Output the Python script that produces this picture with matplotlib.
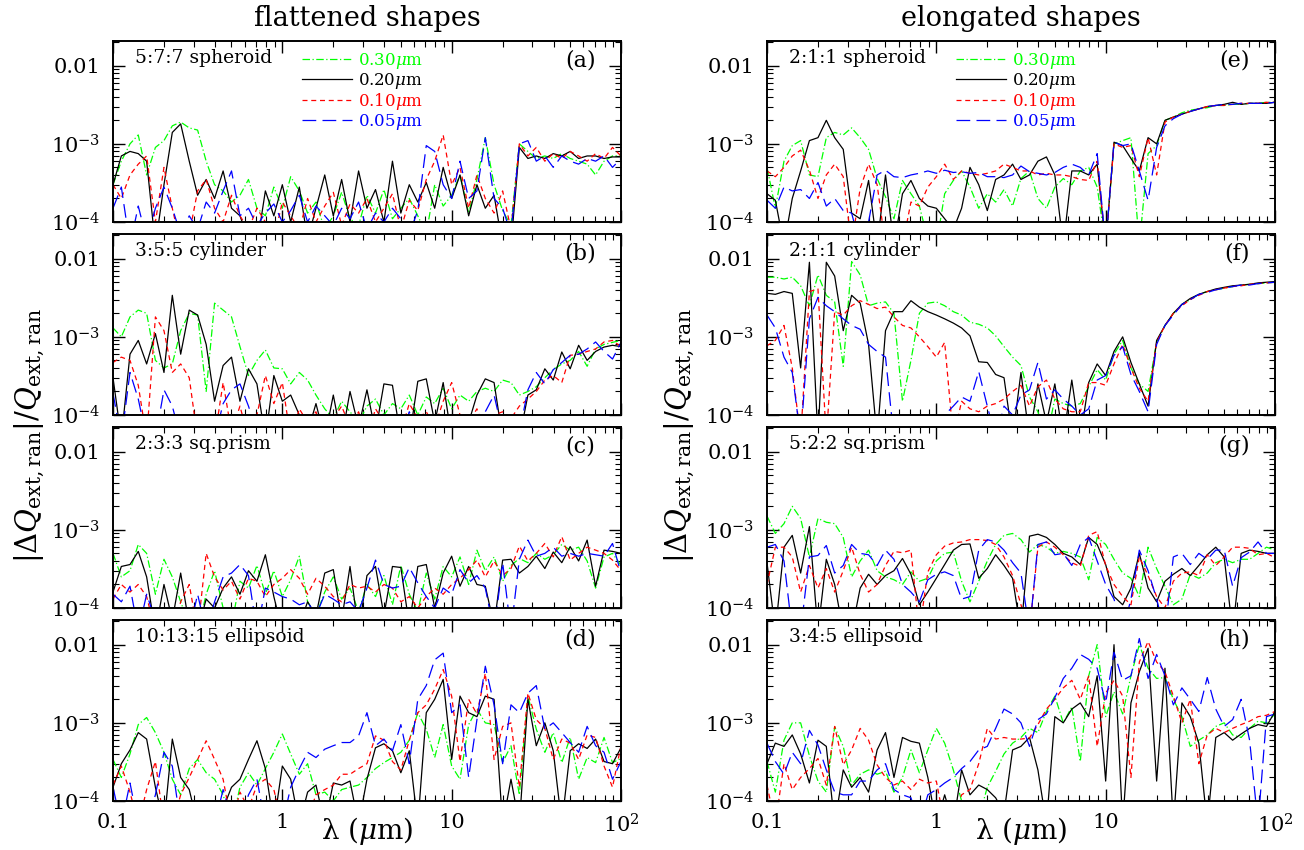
import matplotlib.pyplot as plt
import numpy as np
from matplotlib.ticker import NullFormatter

plt.rcParams['font.family'] = 'DejaVu Serif'
plt.rcParams['mathtext.fontset'] = 'dejavuserif'

# wavelength grid (micron)
lam = [0.100, 0.112, 0.126, 0.141, 0.158, 0.178, 0.200, 0.224, 0.251, 0.282,
       0.316, 0.355, 0.398, 0.447, 0.501, 0.562, 0.631, 0.708, 0.794, 0.891,
       1.00, 1.12, 1.26, 1.41, 1.58, 1.78, 2.00, 2.24, 2.51, 2.82,
       3.16, 3.55, 3.98, 4.47, 5.01, 5.62, 6.31, 7.08, 7.94, 8.91,
       10.0, 11.2, 12.6, 14.1, 15.8, 17.8, 20.0, 22.4, 25.1, 28.2,
       31.6, 35.5, 39.8, 44.7, 50.1, 56.2, 63.1, 70.8, 79.4, 89.1, 100.0]

# |dQext|/Qext in units of 1e-4, radius 0.30 / 0.20 / 0.10 / 0.05 um
# (a) 5:7:7 spheroid
a_030 = [3, 6, 10, 13, 4, 9, 11, 17, 19, 16, 15,
         6, 3, 2.5, 1.8, 2.2, 3.5, 1.5, 1.2, 2.8, 1.5,
         3.8, 2.5, 1.3, 1.8, 0.8, 1.2, 2.4, 1.1, 0.9, 2.2,
         1.3, 2.6, 1.1, 1.5, 2.0, 1.2, 0.7, 3.0, 1.6, 2.2,
         4.0, 1.3, 3.5, 12, 3.0, 1.4, 0.9,
         10, 8, 6.5, 7, 6.5, 7.5, 6.5, 6, 5.5, 4, 6, 7, 7]
a_020 = [3, 7, 8, 7.5, 6, 0.5, 3, 14, 18, 6, 2.2,
         3.5, 2.0, 4.5, 1.5, 1.2, 0.6, 0.5, 2.5, 1.2, 3.0,
         1.0, 2.8, 0.6, 1.5, 4.0, 1.2, 3.5, 1.0, 4.5, 1.5,
         2.6, 1.0, 6.0, 1.3, 3.0, 1.8, 3.2, 1.5, 5.0, 2.0,
         4.0, 1.2, 3.0, 1.5, 2.2, 0.5, 0.5,
         9, 6.5, 7, 6.5, 7.5, 7, 8, 6.5, 7, 7, 6.5, 6.8, 6.8]
a_010 = [3, 2, 4, 5.5, 7, 1.0, 5, 1.5, 0.5, 0.7, 2.5,
         3.5, 1.5, 1.0, 2.2, 1.2, 0.8, 1.5, 1.0, 0.6, 1.8,
         1.2, 0.8, 2.0, 1.0, 1.6, 2.4, 0.9, 1.7, 1.3, 2.0,
         1.0, 1.5, 2.3, 0.8, 1.9, 1.4, 3.5, 6, 13, 3,
         5, 1.5, 4, 2, 1.3, 2.5, 0.8,
         10, 7, 9, 6, 7.5, 6.5, 8, 7, 6, 7.5, 6.5, 9, 7]
a_005 = [1.5, 2.8, 0.5, 1.6, 0.6, 1.5, 2.8, 1.5, 0.7, 1.2, 0.8,
         1.8, 1.3, 2.5, 4.5, 1.2, 1.5, 0.9, 1.3, 1.7, 1.0,
         1.4, 2.2, 1.0, 1.6, 1.2, 0.9, 1.5, 1.1, 1.8, 0.8,
         1.3, 1.0, 1.5, 1.1, 0.7, 1.4, 9.5, 8, 3, 2,
         6, 2, 2.5, 12, 2, 1.5, 0.7,
         10, 11, 6, 7, 5, 7, 6, 5.5, 6.5, 6, 7, 5, 6.5]

# (b) 3:5:5 cylinder
b_030 = [13, 10, 18, 22, 20, 5, 4, 4.5, 12, 20, 19,
         2.0, 27, 22, 18, 7.5, 3.2, 5, 6.8, 4, 3.9,
         2.5, 3.5, 2.8, 1.8, 1.2, 0.9, 1.5, 1.1, 0.8, 1.3,
         1.6, 1.0, 1.4, 1.2, 1.8, 1.0, 1.7, 1.4, 2.2, 1.2,
         1.8, 1.5, 2.0, 2.2, 2.0, 2.8, 2.6,
         1.8, 2.0, 2.3, 3.0, 3.8, 4.5, 5, 6.5, 4.2, 7, 8, 8.5, 9]
b_020 = [3, 0.5, 6, 9, 4.5, 11, 3.5, 34, 6, 22, 19,
         8, 1.5, 4.3, 5.5, 1.5, 3.9, 2.5, 0.5, 3.2, 1.5,
         1.8, 1.0, 0.6, 1.4, 0.5, 1.8, 0.5, 2.0, 0.7, 2.1,
         0.6, 2.5, 2.4, 0.5, 0.5, 2.7, 2.9, 0.8, 2.6, 0.5,
         0.5, 0.8, 1.8, 2.9, 2.6, 0.5, 0.5,
         0.5, 1.8, 2.1, 3.9, 2.8, 6.4, 3.9, 7.8, 5, 6.5, 7.4, 7.8, 7.5]
b_010 = [4.7, 5.5, 5.0, 2.4, 0.5, 18, 12, 3.5, 4.5, 3.0, 0.5,
         0.5, 0.5, 2.6, 0.6, 1.3, 0.5, 1.0, 3.2, 1.4, 2.6,
         0.5, 1.2, 0.8, 1.1, 0.5, 0.9, 1.3, 0.7, 1.1, 0.5,
         1.2, 0.8, 1.0, 0.6, 1.4, 0.9, 1.1, 0.7, 1.5, 2.6,
         1.0, 0.8, 1.2, 0.6, 1.0, 1.1, 0.9,
         1.3, 1.6, 2.0, 2.8, 3.2, 2.6, 5.8, 6.0, 6.5, 7, 8.6, 9, 7.5]
b_005 = [1.9, 0.5, 3.5, 1.6, 0.5, 0.5, 2.1, 1.3, 0.5, 0.5, 0.5,
         0.5, 0.5, 1.4, 2.1, 2.5, 1.3, 0.6, 0.5, 0.7, 0.5,
         0.5, 0.6, 0.5, 0.5, 0.5, 0.5, 0.6, 0.5, 0.5, 0.5,
         0.5, 0.5, 0.5, 0.5, 1.1, 0.6, 0.5, 0.5, 0.5, 0.5,
         0.5, 0.5, 0.6, 1.1, 1.8, 0.6, 0.5,
         0.6, 2.1, 3.5, 2.5, 3.8, 4.7, 5.8, 6, 7, 8.6, 6.5, 5.2, 8.5]

# (c) 2:3:3 square prism
c_030 = [5, 2.5, 3, 6.5, 5, 1.5, 4.2, 2.5, 1.2, 0.6, 0.5,
         1.5, 3, 1.0, 0.6, 2.2, 1.8, 3.5, 1.5, 3.0, 1.4,
         2.3, 4.6, 1.2, 0.8, 1.6, 2.5, 1.3, 1.8, 0.9, 2.0,
         1.4, 2.6, 1.1, 3.5, 1.5, 0.9, 2.8, 1.3, 3.4, 2.5,
         4.5, 2.0, 5.5, 3.0, 4.5, 2.2, 3.5,
         4.3, 3.8, 5, 4.2, 4.8, 6.5, 5.5, 6, 4, 1.8, 4.5, 5, 3.5]
c_020 = [1.6, 3.4, 3.6, 5.3, 2.5, 0.5, 2.0, 0.7, 2.8, 0.6, 0.5,
         1.3, 1.0, 1.8, 2.5, 1.5, 3.0, 2.2, 4.8, 1.4, 0.5,
         1.0, 0.6, 1.2, 0.8, 2.8, 3.1, 0.7, 3.4, 0.5, 2.6,
         3.4, 0.8, 3.4, 3.3, 0.6, 3.4, 3.6, 1.0, 2.8, 4.6,
         1.9, 3.4, 2.0, 1.9, 0.6, 4.1, 4.2,
         2.8, 3.4, 4.6, 3.2, 5.2, 3.8, 6.1, 4.0, 7.4, 1.9, 5.5, 5.3, 5.0]
c_010 = [1.3, 2.0, 1.6, 2.0, 1.4, 0.5, 0.6, 0.5, 1.2, 2.0, 0.5,
         5, 2.5, 1.7, 2.2, 1.3, 2.4, 2.2, 1.4, 2.0, 2.4,
         3.1, 2.4, 1.5, 2.4, 1.9, 1.4, 1.2, 2.0, 1.8, 1.9,
         1.6, 2.0, 1.8, 1.2, 1.4, 1.0, 1.4, 1.8, 1.5, 2.0,
         2.4, 3.1, 4.1, 2.5, 4.0, 2.6, 3.2,
         6.2, 4.0, 5.0, 6.7, 4.5, 8.2, 4.1, 5.0, 6.0, 5.5, 5.0, 4.1, 3.0]
c_005 = [1.5, 1.2, 1.9, 0.5, 1.5, 0.7, 0.5, 0.5, 0.5, 0.5, 1.5,
         0.5, 1.2, 2.5, 2.8, 3.6, 2.6, 0.5, 1.8, 1.6, 1.4,
         1.3, 1.1, 1.2, 0.8, 1.5, 1.3, 1.1, 1.2, 0.9, 1.8,
         4.1, 2.0, 1.8, 1.9, 3.3, 2.1, 1.4, 1.0, 1.8, 1.5,
         3.1, 2.1, 2.6, 1.8, 0.5, 3.8, 0.5,
         4.2, 7.4, 4.6, 5.0, 6.0, 4.6, 5.0, 4.6, 5.0, 4.8, 4.6, 6.7, 2.8]

# (d) 10:13:15 ellipsoid
d_030 = [3.4, 2.0, 4.0, 9.5, 11.7, 7.5, 4.2, 1.9, 1.2, 2.6, 3.4,
         2.3, 1.9, 1.2, 0.5, 1.5, 2.3, 1.6, 2.6, 4.2, 7.2,
         4.0, 2.2, 3.0, 1.2, 1.3, 1.0, 1.4, 1.5, 1.6, 2.0,
         2.6, 3.1, 3.6, 4.2, 6.0, 13.5, 8.3, 3.6, 9.5, 2.8,
         1.9, 9.5, 15, 10, 9.5, 3.1, 5.1,
         1.2, 22, 8.3, 4.2, 7.5, 3.1, 6.5, 1.9, 3.6, 3.1, 6.5, 3.1, 3.5]
d_020 = [1.5, 3.0, 4.5, 7.5, 6.2, 1.5, 0.5, 6.2, 2.0, 1.4, 0.5,
         0.5, 0.5, 0.8, 1.5, 1.9, 3.4, 5.9, 2.6, 0.5, 2.8,
         1.9, 0.5, 1.3, 1.6, 0.5, 1.7, 1.6, 1.8, 0.5, 1.9,
         4.8, 5.4, 4.4, 2.3, 4.4, 0.5, 13.5, 20, 36, 3.4,
         22, 13.5, 12, 22, 20, 0.5, 1.9,
         0.5, 20, 5.1, 10, 4.4, 0.5, 4.4, 5.4, 4.7, 6.2, 3.2, 3.0, 4.8]
d_010 = [1.6, 2.8, 1.3, 0.5, 1.4, 3.2, 0.5, 0.5, 1.2, 2.0, 3.4,
         5.9, 3.4, 1.9, 0.5, 1.3, 0.8, 1.6, 1.9, 1.4, 0.5,
         0.5, 0.5, 0.6, 1.2, 1.4, 1.6, 2.2, 2.2, 2.6, 3.0,
         6.8, 6.0, 3.2, 2.5, 6.0, 13.5, 17, 27, 48, 22,
         3.2, 20, 13, 43, 3.4, 9, 10,
         1.5, 24, 11, 8.5, 3.4, 6.2, 5.5, 3.4, 7.0, 6.5, 2.8, 1.5, 5.1]
d_005 = [1.5, 0.5, 1.7, 0.5, 0.5, 1.2, 4.2, 2.8, 0.5, 0.5, 0.5,
         0.5, 0.5, 1.4, 0.6, 0.5, 1.2, 1.9, 0.5, 0.5, 0.5,
         1.5, 2.6, 4.2, 3.6, 4.6, 5.1, 5.6, 5.6, 6.8, 13.5,
         5.1, 6.2, 4.4, 9.5, 3.0, 20, 30, 64, 78, 13.5,
         17, 2.0, 11, 53, 17, 3.0, 17,
         13.5, 24, 30, 8.3, 10, 7.5, 5.6, 4.2, 9, 5.1, 4.2, 1.9, 3.2]

# (e) 2:1:1 spheroid
e_030 = [5.0, 1.5, 6, 9.5, 11, 4.0, 3.8, 12, 14, 13, 16,
         12, 8.5, 3.6, 2.1, 1.1, 3.4, 2.3, 1.6, 0.6, 0.5,
         2.3, 3.4, 4.5, 2.8, 1.5, 2.3, 1.8, 2.6, 1.6, 3.6,
         4.5, 2.0, 1.5, 2.8, 3.6, 3.0, 4.5, 5.0, 2.8, 0.5,
         10, 11, 12, 0.5, 7.5, 9.5,
         20, 22, 25, 27, 28, 29, 31, 31, 32, 32, 33, 33, 34, 34]
e_020 = [2.3, 1.9, 0.5, 2.0, 4.5, 11, 12, 20, 12, 8.5, 1.3,
         1.1, 3.4, 0.5, 4.0, 0.5, 2.3, 3.4, 2.0, 1.6, 1.5,
         1.1, 0.8, 1.5, 5.0, 3.0, 1.4, 3.5, 4.0, 5.5, 3.5,
         4.0, 6.0, 6.8, 4.0, 0.5, 4.5, 4.5, 4.0, 5.5, 0.5,
         10.5, 9.5, 6.5, 4.5, 12, 10,
         20, 22, 24, 26, 28, 30, 31, 32, 34, 32, 33, 33, 33, 34]
e_010 = [4.5, 3.8, 5.0, 7.0, 8.3, 4.6, 2.0, 4.0, 5.5, 3.8, 0.5,
         2.7, 5.5, 3.0, 0.5, 0.5, 0.5, 1.8, 1.6, 2.8, 3.8,
         5.5, 3.5, 4.5, 4.2, 4.0, 4.2, 4.5, 5.5, 5.0, 4.5,
         4.5, 4.0, 4.2, 4.0, 4.0, 3.8, 3.5, 3.4, 6.0, 0.5,
         10, 9, 9.5, 3.8, 12, 4.0,
         19, 22, 24, 26, 28, 30, 31, 31, 32, 33, 33, 33, 34, 34]
e_005 = [1.9, 1.5, 2.8, 2.5, 2.6, 2.0, 3.2, 1.6, 2.0, 1.4, 1.3,
         0.5, 1.0, 4.0, 4.6, 3.8, 3.7, 4.0, 4.2, 4.5, 4.2,
         4.6, 4.3, 4.4, 4.2, 4.3, 3.8, 3.8, 3.7, 4.0, 5.2,
         4.4, 4.2, 4.0, 4.3, 5.0, 5.5, 5.0, 4.0, 7.5, 0.5,
         10.5, 9.5, 10, 4.5, 1.9, 9,
         17, 21, 24, 26, 28, 30, 31, 32, 32, 33, 33, 33, 33, 34]

# (f) 2:1:1 cylinder
f_030 = [58, 58, 55, 58, 45, 25, 62, 34, 28, 4.2, 92,
         62, 25, 27, 28, 20, 1.5, 5, 20, 27, 28,
         25, 21, 19, 15.4, 14.5, 13, 10.3, 7.5, 5.5, 4.3,
         1.7, 1.1, 0.5, 1.6, 1.4, 1.3, 1.4, 2.3, 3.8, 2.8,
         6, 9, 4.0, 2.5, 2.0, 8.5,
         14, 20, 26, 30, 35, 38, 40, 42, 44, 46, 47, 48, 49, 50]
f_020 = [36, 35, 38, 36, 4, 90, 0.5, 90, 60, 12, 34,
         27, 8, 0.5, 12, 21, 21, 29, 24, 21, 19,
         17, 15, 13, 10.3, 4.8, 4.7, 3.3, 3.0, 0.5, 3.5,
         0.5, 2.5, 0.8, 2.5, 0.5, 2.8, 0.5, 2.6, 4.5, 3.2,
         6.5, 10, 4.7, 2.5, 1.3, 9,
         14, 20, 26, 31, 35, 38, 41, 43, 45, 46, 47, 49, 50, 51]
f_010 = [7.7, 9, 14, 4, 0.5, 38, 41, 0.5, 21, 19, 25,
         29, 26, 23, 24, 18, 14, 13, 10, 7.5, 5.5,
         8.5, 0.5, 1.5, 1.2, 1.1, 1.3, 1.4, 1.6, 2.0, 2.4,
         1.3, 2.3, 2.8, 1.6, 1.2, 1.1, 1.1, 2.6, 2.6, 2.4,
         4.5, 8, 4.0, 2.2, 1.5, 8.5,
         14, 20, 25, 30, 34, 38, 40, 42, 44, 45, 47, 48, 49, 50]
f_005 = [19, 13, 5.5, 3.5, 0.5, 17, 32, 25, 21, 17, 14,
         12.5, 8, 6.5, 5.5, 0.5, 0.5, 0.5, 0.5, 0.5, 0.5,
         1.0, 1.3, 1.7, 1.5, 3.6, 1.3, 0.5, 1.3, 1.0, 1.8,
         2.1, 4.7, 1.6, 2.1, 1.6, 1.3, 1.0, 1.2, 2.8, 3.2,
         5.8, 7.5, 3.3, 2.0, 1.1, 8,
         14, 19, 26, 30, 35, 37, 40, 42, 44, 46, 46, 48, 49, 50]

# (g) 5:2:2 square prism
g_030 = [15, 9, 12, 20, 14, 4.5, 14, 12.5, 12, 8, 2.5,
         4, 5.5, 3.0, 2.5, 2.3, 2.0, 2.9, 2.2, 2.4, 4.0,
         5.0, 5.2, 2.2, 1.2, 2.2, 4.0, 6.5, 8.5, 9, 7.5,
         5.2, 6.5, 6.0, 5.0, 5.3, 5.0, 4.5, 2.3, 8.0, 6.5,
         4.2, 2.8, 2.4, 1.4, 6.0, 3.2, 1.9,
         1.1, 1.3, 2.7, 2.4, 2.8, 3.8, 4.2, 3.8, 4.2, 4.2, 5.0, 6.0, 5.5]
g_020 = [3.8, 0.5, 6.0, 8.5, 2.8, 11, 0.5, 4.2, 2.0, 0.5, 0.5,
         1.8, 2.7, 2.0, 2.6, 3.0, 4.3, 2.7, 1.1, 1.6, 2.4,
         3.6, 5.5, 6.5, 6.6, 2.4, 3.2, 4.8, 3.5, 2.4, 0.5,
         8.3, 8.8, 8.0, 6.5, 5.0, 4.5, 3.6, 8.0, 6.5, 3.6,
         1.4, 1.1, 1.8, 5.0, 1.8, 1.2, 2.2,
         2.7, 3.2, 2.6, 3.5, 4.8, 6.0, 4.5, 0.5, 5.0, 5.5, 5.3, 5.0, 5.0]
g_010 = [2.0, 6.0, 6.0, 4.5, 1.6, 3.5, 1.8, 3.2, 1.6, 3.0, 6.0,
         2.7, 1.6, 2.0, 3.5, 5.3, 5.1, 5.5, 0.5, 2.9, 4.8,
         6.2, 6.8, 7.0, 7.5, 7.5, 7.3, 6.5, 4.5, 2.6, 1.1,
         0.5, 6.0, 7.0, 6.0, 4.8, 3.8, 3.4, 8.5, 9.5, 3.5,
         2.0, 1.4, 1.1, 4.5, 2.6, 1.4, 1.0,
         2.2, 2.8, 2.9, 2.6, 4.8, 3.5, 4.5, 6.0, 6.0, 5.8, 4.8, 5.0, 4.4]
g_005 = [6.0, 6.5, 4.0, 0.5, 0.5, 4.5, 4.7, 6.3, 2.8, 3.5, 6.5,
         5.0, 4.8, 3.5, 5.5, 4.2, 2.0, 1.6, 1.2, 2.3, 2.7,
         2.9, 2.6, 1.3, 1.4, 5.5, 7.5, 7.0, 5.5, 3.8, 2.8,
         0.5, 6.5, 7.0, 4.8, 5.0, 3.5, 6.5, 8.0, 4.0, 2.0,
         1.3, 0.5, 1.3, 5.5, 3.0, 1.3, 0.5,
         4.5, 5.0, 3.6, 5.0, 4.2, 5.5, 5.5, 1.9, 4.4, 5.2, 7.0, 5.0, 5.0]

# (h) 3:4:5 ellipsoid
h_030 = [3.2, 1.3, 6, 10, 10, 3.8, 1.8, 1.3, 8.9, 5, 1.6,
         2.2, 2.5, 2.2, 2.4, 1.3, 2.0, 4.5, 2.3, 4.5, 8.5,
         5.5, 2.5, 1.0, 0.5, 0.6, 1.5, 2.4, 4.0, 5.5, 6.5,
         8.5, 7.5, 14, 22, 10, 16, 3.2, 40, 100, 12,
         25, 13, 40, 100, 50, 37, 38,
         20, 12, 5, 6, 7, 9, 10, 7, 6.5, 8.5, 10.5, 10, 13]
h_020 = [3.0, 5.5, 5.0, 7.0, 4.0, 1.7, 6.0, 5.0, 0.5, 2.5, 1.5,
         2.0, 1.3, 4.5, 7.5, 2.0, 6.5, 5.8, 5.5, 2.0, 0.5,
         1.2, 0.5, 2.5, 1.2, 1.6, 1.4, 1.1, 0.7, 4.5, 5.0,
         6.5, 2.5, 0.5, 12, 10, 15, 18, 12, 40, 1.8,
         100, 0.5, 18, 45, 90, 1.8, 50,
         0.5, 18, 12, 5.5, 0.5, 6.5, 7.5, 6.0, 7.2, 8.5, 9.5, 9, 14]
h_010 = [1.6, 0.5, 3.0, 1.4, 2.0, 2.6, 3.5, 1.6, 9, 2.9, 4.5,
         8.5, 6.0, 2.9, 2.0, 1.6, 1.8, 1.4, 1.9, 1.7, 1.8,
         0.5, 0.6, 1.2, 1.4, 3.0, 8.5, 6.2, 6.5, 6.2, 6.2,
         6.4, 9.5, 15, 20, 28, 35, 20, 40, 5, 24,
         35, 22, 2.0, 60, 110, 60, 45,
         22, 10, 20, 3.0, 7, 8.5, 7.5, 8.5, 9.5, 10.5, 12, 12.5, 14]
h_005 = [5.5, 3.2, 2.2, 4.2, 3.0, 8, 5.2, 2.5, 1.3, 1.2, 1.2,
         1.8, 1.8, 2.5, 3.0, 1.4, 1.2, 1.1, 0.5, 1.2, 1.4,
         1.7, 2.0, 2.6, 3.2, 4.5, 5.0, 8.5, 15, 13, 10,
         5.0, 11, 13, 21, 37, 50, 75, 65, 50, 18,
         80, 35, 40, 120, 37, 75, 40,
         17, 28, 20, 14, 38, 15, 9, 11, 20, 6, 0.5, 12, 13]

radii = ['0.30', '0.20', '0.10', '0.05']
colors = ['#00ff00', 'black', 'red', 'blue']
styles = [(0, (6, 2, 1, 2)), '-', (0, (4, 3)), (0, (11, 5))]

shapes = ['5:7:7 spheroid', '3:5:5 cylinder', '2:3:3 sq.prism', '10:13:15 ellipsoid',
          '2:1:1 spheroid', '2:1:1 cylinder', '5:2:2 sq.prism', '3:4:5 ellipsoid']
series = [[a_030, a_020, a_010, a_005], [b_030, b_020, b_010, b_005],
          [c_030, c_020, c_010, c_005], [d_030, d_020, d_010, d_005],
          [e_030, e_020, e_010, e_005], [f_030, f_020, f_010, f_005],
          [g_030, g_020, g_010, g_005], [h_030, h_020, h_010, h_005]]

W, H = 1304, 850
fig = plt.figure(figsize=(W / 100, H / 100), dpi=100)
lefts = [113, 767]

for k in range(8):
    col, row = divmod(k, 4)
    top = 41 + row * 193
    ax = fig.add_axes([lefts[col] / W, (H - top - 181) / H, 508 / W, 181 / H])
    for vals, c, ls, r in zip(series[k], colors, styles, radii):
        ax.plot(lam, np.array(vals) * 1e-4, color=c, ls=ls, lw=0.9,
                label=r + r'$\mu$m')
    ax.set_xscale('log')
    ax.set_yscale('log')
    ax.set_xlim(0.1, 100)
    ax.set_ylim(1e-4, 2.07e-2)
    ax.set_yticks([1e-4, 1e-3, 1e-2], ['$10^{-4}$', '$10^{-3}$', '0.01'])
    if row == 3:
        ax.set_xticks([0.1, 1, 10, 100], ['0.1', '1', '10', '$10^2$'])
    else:
        ax.set_xticks([0.1, 1, 10, 100], [])
    ax.xaxis.set_minor_formatter(NullFormatter())
    ax.yaxis.set_minor_formatter(NullFormatter())
    ax.tick_params(which='both', direction='in', top=True, right=True,
                   labelsize=15)
    ax.tick_params(which='major', length=8.5, width=1.0)
    ax.tick_params(which='minor', length=4, width=0.8)
    ax.tick_params(axis='x', pad=9)
    ax.tick_params(axis='y', pad=9)
    for s in ax.spines.values():
        s.set_linewidth(1.4)
    ax.text(0.043, 0.905, shapes[k], transform=ax.transAxes, fontsize=13.5,
            va='center', ha='left')
    ax.text(0.95, 0.895, '(' + 'abcdefgh'[k] + ')', transform=ax.transAxes,
            fontsize=16, va='center', ha='right')
    if row == 0:
        ax.legend(loc='upper left', bbox_to_anchor=(0.345, 1.02), frameon=False,
                  labelcolor='linecolor', fontsize=12, handlelength=3.0,
                  handletextpad=0.4, labelspacing=0.0, borderpad=0.3)

ylab = r'$|\Delta Q_{\rm ext,ran}|/Q_{\rm ext,ran}$'
for xc in (30, 680):
    fig.text(xc / W, 1 - 436 / H, ylab, rotation=90, ha='center', va='center',
             fontsize=21)
for xc, title in ((367, 'flattened shapes'), (1021, 'elongated shapes')):
    fig.text(xc / W, 1 - 18 / H, title, ha='center', va='center', fontsize=19.5)
    fig.text(xc / W, 1 - 831 / H, r'λ ($\mu$m)', ha='center', va='center',
             fontsize=20)

fig.savefig('out.png', dpi=100)
